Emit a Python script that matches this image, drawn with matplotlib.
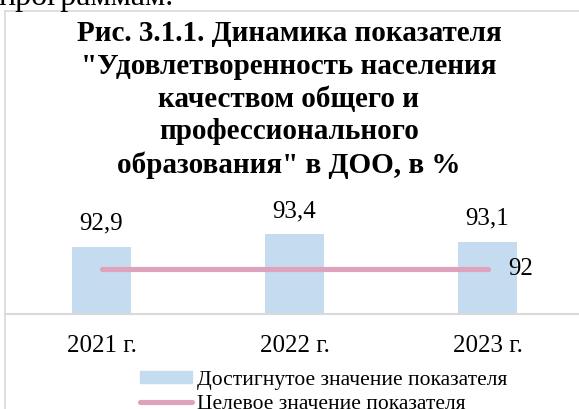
import matplotlib.pyplot as plt
from matplotlib.patches import Patch
from matplotlib.lines import Line2D

plt.rcParams['font.family'] = ['Liberation Serif', 'DejaVu Serif']

years = ['2021 г.', '2022 г.', '2023 г.']
achieved = [92.9, 93.4, 93.1]
target = [92, 92, 92]
series_names = ['Достигнутое значение показателя', 'Целевое значение показателя']

bar_color = '#c5dcf0'
line_color = '#dea2bc'
frame_color = '#d9d9d9'

W, H = 579, 409
fig = plt.figure(figsize=(W / 100, H / 100), dpi=100)

# page text cut off above the chart frame
fig.text(-2 / W, 1 - 5 / H, 'программам.', fontsize=23, va='baseline', ha='left')

# chart frame (only left and top edges are in view)
fig.add_artist(Line2D([4.5 / W, 4.5 / W], [0, 1 - 11 / H], color=frame_color, lw=1.2))
fig.add_artist(Line2D([4.5 / W, 1], [1 - 11 / H, 1 - 11 / H], color=frame_color, lw=1.2))

fig.text(289 / W, 1 - 173 / H,
         'Рис. 3.1.1. Динамика показателя\n"Удовлетворенность населения\n'
         'качеством общего и\nпрофессионального\nобразования" в ДОО, в %',
         ha='center', va='baseline', fontsize=21, fontweight='bold',
         linespacing=1.28, multialignment='center')

ax = fig.add_axes([5 / W, 95 / H, 574 / W, 114 / H])
x = list(range(len(years)))
ax.bar(x, achieved, width=0.31, color=bar_color, zorder=1)
ax.plot(x, target, color=line_color, lw=3.7, solid_capstyle='round', zorder=2)

ax.set_xlim(-0.5, -0.5 + 574 / 193)
ax.set_ylim(90.2, 90.2 + 114 / 25)

for xi, v in zip(x, achieved):
    ax.annotate(f'{v:.1f}'.replace('.', ','), (xi, v), xytext=(0, 12),
                textcoords='offset points', ha='center', va='baseline', fontsize=18)
ax.annotate(f'{target[-1]:g}', (x[-1], target[-1]), xytext=(15, 0),
            textcoords='offset points', ha='left', va='center', fontsize=18)

ax.set_xticks(x)
ax.set_xticklabels(years, fontsize=18)
ax.tick_params(axis='x', length=0, pad=15)
ax.set_yticks([])
for s in ['top', 'right', 'left']:
    ax.spines[s].set_visible(False)
ax.spines['bottom'].set_color(frame_color)
ax.spines['bottom'].set_linewidth(1.5)
ax.patch.set_alpha(0)

handles = [Patch(color=bar_color),
           Line2D([], [], color=line_color, lw=3.7, solid_capstyle='round')]
fig.legend(handles, series_names, loc='upper left', bbox_to_anchor=(140 / W, 1 - 371 / H),
           frameon=False, fontsize=15.5, handlelength=2.4, handleheight=0.5,
           handletextpad=0.25, labelspacing=0.25, borderpad=0, borderaxespad=0)

fig.savefig('out.png', dpi=100)
